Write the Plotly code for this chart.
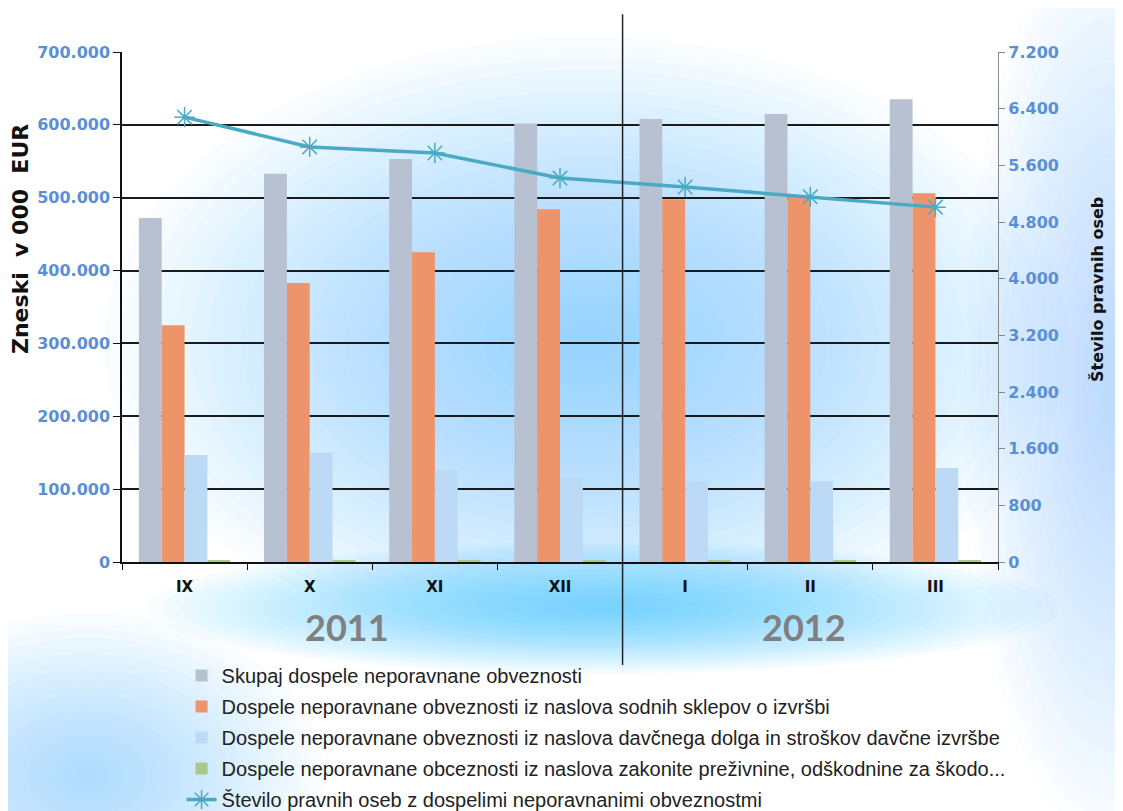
import plotly.graph_objects as go

months = ["IX", "X", "XI", "XII", "I", "II", "III"]
skupaj = [472000, 533000, 553000, 602000, 608000, 615000, 635000]
sodni = [325000, 383000, 425000, 484000, 498000, 502000, 506000]
davcni = [147000, 150000, 126000, 115000, 111000, 111000, 129000]
prezivnine = [2500, 2500, 2500, 2500, 2500, 2500, 2500]
stevilo = [6280, 5860, 5775, 5420, 5295, 5155, 5010]

years = ["2011", "2012"]
year_pos = [1.3, 4.95]

names = [
    "Skupaj dospele neporavnane obveznosti",
    "Dospele neporavnane obveznosti iz naslova sodnih sklepov o izvršbi",
    "Dospele neporavnane obveznosti iz naslova davčnega dolga in stroškov davčne izvršbe",
    "Dospele neporavnane obceznosti iz naslova zakonite preživnine, odškodnine za škodo...",
    "Število pravnih oseb z dospelimi neporavnanimi obveznostmi",
]

fig = go.Figure()
bar_colors = ["#b8c1d1", "#ee946a", "#bcd9f6", "#a9c98a"]
for i, (vals, col) in enumerate(zip([skupaj, sodni, davcni, prezivnine], bar_colors)):
    fig.add_trace(go.Bar(
        x=months, y=vals, name=names[i], marker_color=col,
        marker_line_width=0, legendgroup=f"g{i}",
    ))

fig.add_trace(go.Scatter(
    x=months, y=stevilo, name=names[4], yaxis="y2", mode="lines+markers",
    line=dict(color="#4aaac4", width=3.5),
    marker=dict(symbol="asterisk-open", size=17, color="#4aaac4",
                line=dict(color="#4aaac4", width=1.5)),
    legendgroup="g4",
))

shapes = []


def blobs(cx, cy, rx_max, ry_max, n, color, op):
    out = []
    for k in range(n):
        f = 1 - k / n
        out.append(dict(type="circle", xref="paper", yref="paper", layer="below",
                        x0=cx - rx_max * f, x1=cx + rx_max * f,
                        y0=cy - ry_max * f, y1=cy + ry_max * f,
                        fillcolor=color, opacity=op, line_width=0))
    return out


shapes += blobs(0.53, 0.43, 0.55, 0.6, 28, "rgb(110,180,245)", 0.03)
shapes += blobs(0.55, -0.09, 0.52, 0.13, 28, "rgb(80,195,245)", 0.04)
shapes += blobs(1.13, 0.35, 0.17, 0.9, 20, "rgb(140,195,245)", 0.03)
shapes += blobs(-0.04, -0.42, 0.27, 0.32, 20, "rgb(120,195,245)", 0.035)

# divider between 2011 and 2012
shapes.append(dict(type="line", xref="x", yref="paper", x0=3.5, x1=3.5,
                   y0=-0.202, y1=1.074, line=dict(color="#222222", width=1.5)))

annotations = []
for yr, pos in zip(years, year_pos):
    annotations.append(dict(text=f"<b>{yr}</b>", x=pos, y=-0.127, xref="x", yref="paper",
                            xanchor="center", yanchor="middle",
                            showarrow=False, font=dict(family="Lato", size=36, color="#808080")))
annotations.append(dict(text="<b>Zneski  v 000  EUR</b>", x=20, y=239, xref="paper",
                        yref="paper", textangle=-90, showarrow=False,
                        xanchor="center", yanchor="middle",
                        font=dict(family="DejaVu Sans", size=22, color="#111111")))
annotations.append(dict(text="<b>Število pravnih oseb</b>", x=1097, y=290, xref="paper",
                        yref="paper", textangle=-90, showarrow=False,
                        xanchor="center", yanchor="middle",
                        font=dict(family="DejaVu Sans", size=16, color="#111111")))
# convert pixel positions of titles to paper coordinates
PL, PR, PT, PB = 122, 998, 52, 562
for a in annotations[-2:]:
    a["x"] = (a["x"] - PL) / (PR - PL)
    a["y"] = (PB - a["y"]) / (PB - PT)

tick_font = dict(family="DejaVu Sans", size=16, color="#5b8fd4", weight="bold")

# the page body adds an 8px offset; size the figure so the plot lands where it should
fig.update_layout(
    width=1115, height=803,
    margin=dict(l=114, r=125, t=44, b=249, autoexpand=False),
    paper_bgcolor="white", plot_bgcolor="rgba(0,0,0,0)",
    separators=",.",
    barmode="group", bargap=0.27, bargroupgap=0,
    showlegend=True,
    legend=dict(x=0.068, y=1 - 648 / 803, xanchor="left", yanchor="top", orientation="v",
                yref="container",
                bgcolor="rgba(0,0,0,0)", tracegroupgap=2,
                font=dict(family="Liberation Sans", size=20, color="#222222"),
                itemwidth=30),
    xaxis=dict(type="category", showline=True, linecolor="#111111", linewidth=1.5,
               ticks="outside", tickson="boundaries", ticklen=6, tickcolor="#111111",
               ticklabelstandoff=10,
               tickfont=dict(family="DejaVu Sans", size=15, color="#111111", weight="bold"),
               showgrid=False),
    yaxis=dict(range=[0, 700000], dtick=100000, tickformat=",d",
               showline=True, linecolor="#111111", linewidth=1.5, ticks="outside",
               ticklen=7, tickcolor="#111111",
               showgrid=True, gridcolor="#1a1a1a", gridwidth=1.5, zeroline=False,
               tickfont=tick_font),
    yaxis2=dict(range=[0, 7200], dtick=800, tickformat=",d", overlaying="y", side="right",
                showline=True, linecolor="#888888", linewidth=1.2, ticks="outside",
                ticklen=6, tickcolor="#888888", showgrid=False, zeroline=False,
                tickfont=tick_font),
    shapes=shapes,
    annotations=annotations,
)

fig.write_html("out.html")
